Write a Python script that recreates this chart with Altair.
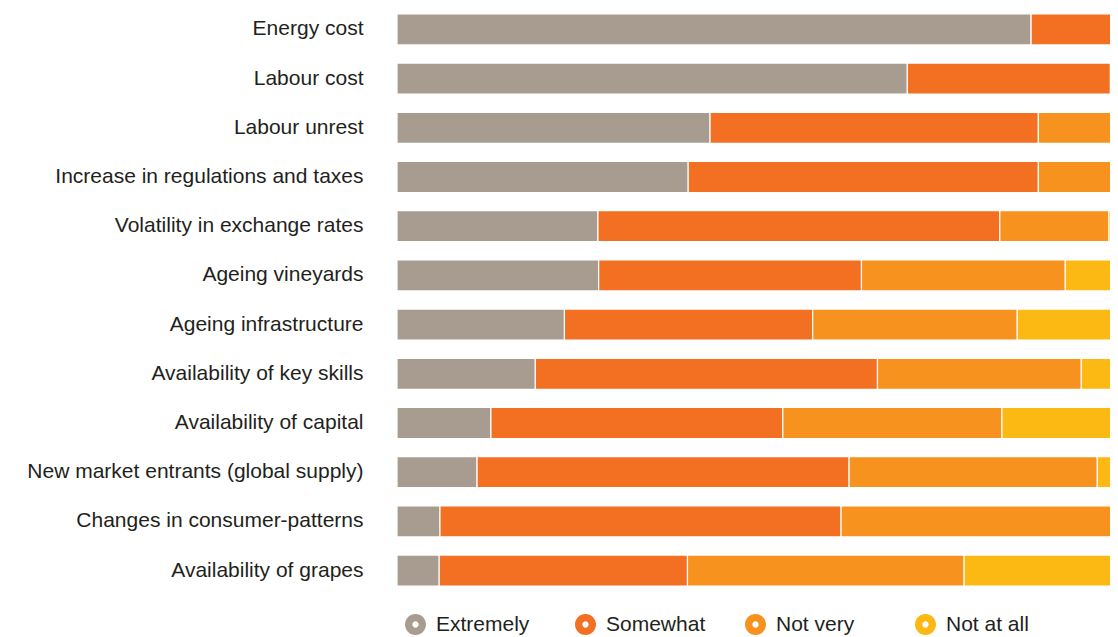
import altair as alt
import pandas as pd

categories = [
    "Energy cost",
    "Labour cost",
    "Labour unrest",
    "Increase in regulations and taxes",
    "Volatility in exchange rates",
    "Ageing vineyards",
    "Ageing infrastructure",
    "Availability of key skills",
    "Availability of capital",
    "New market entrants (global supply)",
    "Changes in consumer-patterns",
    "Availability of grapes",
]
levels = ["Extremely", "Somewhat", "Not very", "Not at all"]
extremely = [87.1, 70.1, 43.0, 40.0, 27.6, 27.7, 23.0, 19.0, 12.9, 11.0, 5.9, 5.8]
somewhat = [11.0, 27.9, 45.1, 48.1, 55.2, 36.1, 34.1, 47.0, 40.1, 51.1, 55.1, 34.1]
not_very = [1.3, 1.4, 10.0, 10.2, 15.0, 28.0, 28.1, 28.0, 30.1, 34.1, 38.5, 38.0]
not_at_all = [0.6, 0.6, 1.9, 1.7, 2.2, 8.2, 14.8, 6.0, 16.9, 3.8, 0.5, 22.1]
colors = ["#A89B90", "#F36F21", "#F7921E", "#FDB913"]

series = [extremely, somewhat, not_very, not_at_all]
rows = []
for li, (lev, vals) in enumerate(zip(levels, series)):
    for cat, v in zip(categories, vals):
        rows.append({"factor": cat, "level": lev, "value": v, "order": li})
df = pd.DataFrame(rows)

font = "Liberation Sans"
text_color = "#231f20"

# ring-shaped legend symbol (outer circle with a hole)
ring = ("M1,0 A1,1 0 1,1 -1,0 A1,1 0 1,1 1,0 Z "
        "M0.3,0 A0.3,0.3 0 1,0 -0.3,0 A0.3,0.3 0 1,0 0.3,0 Z")

chart = (
    alt.Chart(df)
    .mark_bar(stroke="white", strokeWidth=1.2, clip=True)
    .encode(
        x=alt.X("value:Q", stack="zero", axis=None,
                scale=alt.Scale(domain=[0, 97.94], nice=False, zero=True)),
        y=alt.Y("factor:N", sort=categories, title=None,
                scale=alt.Scale(paddingInner=0.37, paddingOuter=0.12),
                axis=alt.Axis(domain=False, ticks=False, labelFontSize=21,
                              labelFont=font, labelColor=text_color,
                              labelPadding=34, labelLimit=500)),
        color=alt.Color("level:N", sort=levels,
                        scale=alt.Scale(domain=levels, range=colors),
                        legend=alt.Legend(
                            title=None, orient="none", legendX=8, legendY=606,
                            direction="horizontal", columns=4, gridAlign="all",
                            columnPadding=39, labelFontSize=21, labelFont=font,
                            labelColor=text_color, labelOffset=10,
                            symbolType=ring, symbolSize=441,
                            symbolStrokeWidth=0, symbolOpacity=1)),
        order=alt.Order("order:Q"),
    )
    .properties(
        width=713,
        height=584,
        autosize=alt.AutoSizeParams(type="none"),
        padding={"left": 389, "top": 0, "right": 0, "bottom": 45},
    )
    .configure_view(stroke=None)
)

chart.save("out.html", embed_options={"renderer": "svg", "actions": False})
